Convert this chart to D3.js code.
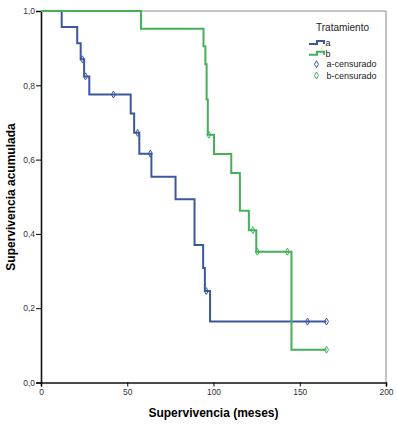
<!DOCTYPE html>
<html>
<head>
<meta charset="utf-8">
<script src="https://cdn.jsdelivr.net/npm/d3@7"></script>
<style>
    body { margin: 0; background: #fff; }
    svg { display: block; font-family: Arial, "Liberation Sans", sans-serif; }
</style>
</head>
<body>
<div class="chart"></div>
<script>
// Kaplan-Meier steps: [meses, supervivencia]
const stepsA = [[0, 1], [12, 0.957], [21, 0.913], [23, 0.870], [25, 0.824], [28, 0.775], [52, 0.724],
    [54, 0.672], [57, 0.616], [64, 0.554], [78, 0.493], [89, 0.370], [94, 0.308], [95, 0.246], [98, 0.164]];
const censoredA = [[24, 0.870], [25.8, 0.824], [42, 0.775], [56, 0.672], [63.4, 0.616], [95.8, 0.246],
    [154.5, 0.164], [165.5, 0.164]];
const lastA = 165.5;

const stepsB = [[0, 1], [58, 0.952], [94.2, 0.905], [95.3, 0.857], [96, 0.762], [96.7, 0.667], [100.3, 0.615],
    [110.3, 0.564], [115.3, 0.462], [120.5, 0.410], [124.8, 0.352], [145.2, 0.088]];
const censoredB = [[97.3, 0.667], [122.8, 0.410], [125.4, 0.352], [142.8, 0.352], [165.5, 0.088]];
const lastB = 165.5;

const xTicks = [0, 50, 100, 150, 200];
const yTicks = [0, 0.2, 0.4, 0.6, 0.8, 1.0];
const legendLabels = ['a', 'b', 'a-censurado', 'b-censurado'];

const colorA = '#3b589f';
const colorB = '#44b05a';

const dimensions = {
    width: 398,
    height: 428,
    margin: {left: 41, right: 12, top: 11, bottom: 45.5}
};
const m = dimensions.margin;

const svg = d3.select('.chart').append('svg')
    .attr('width', dimensions.width)
    .attr('height', dimensions.height);

const x = d3.scaleLinear().domain([0, 200]).range([m.left, dimensions.width - m.right]);
const y = d3.scaleLinear().domain([0, 1]).range([dimensions.height - m.bottom, m.top]);

const fmt = d => d3.format('.1f')(d).replace('.', ',');

// frame (top + right in grey)
svg.append('path')
    .attr('d', `M${x(0)},${y(1)}H${x(200)}V${y(0)}`)
    .attr('fill', 'none')
    .attr('stroke', '#8a8a8a')
    .attr('stroke-width', 1);

// axes
const yAxis = svg.append('g').attr('transform', `translate(${m.left},0)`)
    .call(d3.axisLeft(y).tickValues(yTicks).tickFormat(fmt).tickSize(5).tickPadding(1))
    .call(g => g.select('.domain').attr('stroke-width', 1.6).attr('stroke', '#111'))
    .call(g => g.selectAll('.tick text').style('font-size', '8.5px').attr('fill', '#333'));

const xAxis = svg.append('g').attr('transform', `translate(0,${y(0)})`)
    .call(d3.axisBottom(x).tickValues(xTicks).tickSize(4).tickPadding(2))
    .call(g => g.select('.domain').attr('stroke-width', 1.6).attr('stroke', '#111'))
    .call(g => g.selectAll('.tick text').style('font-size', '8.5px').attr('fill', '#333'));

const line = d3.line()
    .x(d => x(d[0]))
    .y(d => y(d[1]))
    .curve(d3.curveStepAfter);

const diamond = 'M0,-3.5L2,0L0,3.5L-2,0Z';

const series = [
    {steps: stepsA, last: lastA, censored: censoredA, color: colorA},
    {steps: stepsB, last: lastB, censored: censoredB, color: colorB}
];

series.forEach(s => {
    const pts = s.steps.concat([[s.last, s.steps[s.steps.length - 1][1]]]);
    svg.append('path')
        .attr('d', line(pts))
        .attr('fill', 'none')
        .attr('stroke', s.color)
        .attr('stroke-width', 2);
    svg.append('g').selectAll('path')
        .data(s.censored)
        .join('path')
        .attr('transform', d => `translate(${x(d[0])},${y(d[1])})`)
        .attr('d', diamond)
        .attr('fill', 'none')
        .attr('stroke', s.color)
        .attr('stroke-width', 1);
});

// axis titles
svg.append('text')
    .attr('x', (x(0) + x(200)) / 2)
    .attr('y', 417)
    .attr('text-anchor', 'middle')
    .style('font-size', '12px')
    .style('font-weight', 'bold')
    .text('Supervivencia (meses)');

svg.append('text')
    .attr('transform', `translate(15,197) rotate(-90)`)
    .attr('text-anchor', 'middle')
    .style('font-size', '12px')
    .style('font-weight', 'bold')
    .text('Supervivencia acumulada');

// legend
const legend = svg.append('g');
legend.append('text')
    .attr('x', 316).attr('y', 30.5)
    .style('font-size', '10px')
    .attr('fill', '#222')
    .text('Tratamiento');

const legendY = [42.5, 53.3, 64.2, 75.5];
legendLabels.forEach((lab, i) => {
    const color = i % 2 === 0 ? colorA : colorB;
    const ly = legendY[i];
    if (i < 2) {
        legend.append('path')
            .attr('d', `M309,${ly + 1.5}H317V${ly - 1.5}H324V${ly + 1.5}`)
            .attr('fill', 'none')
            .attr('stroke', color)
            .attr('stroke-width', 2);
    } else {
        legend.append('path')
            .attr('transform', `translate(316.5,${ly})`)
            .attr('d', diamond)
            .attr('fill', 'none')
            .attr('stroke', color)
            .attr('stroke-width', 1);
    }
    legend.append('text')
        .attr('x', i < 2 ? 325.5 : 326.5)
        .attr('y', ly + 3.2)
        .style('font-size', '9px')
        .attr('fill', '#222')
        .text(lab);
});
</script>
</body>
</html>
